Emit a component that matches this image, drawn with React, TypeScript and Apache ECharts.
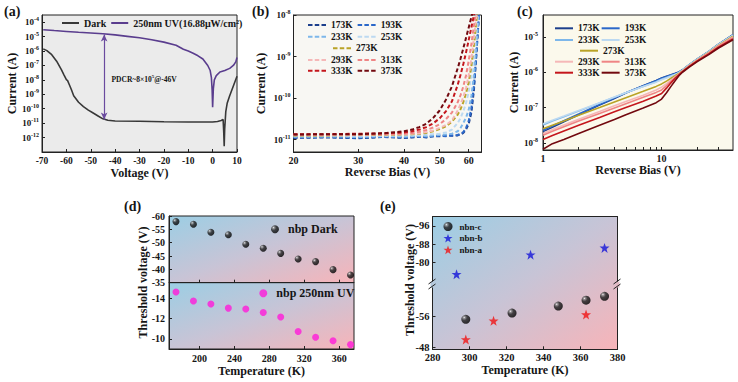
import React, { useEffect, useRef } from "react";
import * as echarts from "echarts";

// ---------------- (a) I–V : dark vs 250 nm UV (log10 of current, A) ----------------
const aDarkVoltage = [-69.5, -68, -66, -64, -62, -61, -60, -59.5, -59, -58, -57, -55, -53, -51, -49, -47, -45, -43, -40, -30, -20, -10, 0, 2, 3.5, 4.3, 4.55, 4.75, 4.95, 5.4, 6, 7, 8, 9, 10];
const aDarkLogCurrent = [-5.85, -5.97, -6.25, -6.7, -7.3, -7.65, -7.98, -8.05, -8.25, -8.65, -9.1, -9.55, -9.85, -10.1, -10.3, -10.5, -10.7, -10.8, -10.85, -10.87, -10.9, -10.92, -10.92, -10.88, -10.82, -10.75, -11.6, -12.6, -11.4, -10.2, -9.6, -9.1, -8.65, -8.2, -7.75];
const aUvVoltage = [-69.5, -65, -60, -55, -50, -45, -40, -35, -30, -25, -20, -15, -12, -10, -8, -6, -4, -2, -1, -0.5, -0.2, 0, 0.3, 0.7, 1.5, 3, 5, 7, 8.5, 9.5, 10];
const aUvLogCurrent = [-4.52, -4.58, -4.64, -4.7, -4.75, -4.8, -4.88, -4.98, -5.08, -5.22, -5.38, -5.6, -5.88, -6.0, -6.15, -6.33, -6.55, -7.0, -7.35, -7.85, -8.7, -9.9, -8.6, -8.0, -7.7, -7.45, -7.35, -7.2, -7.0, -6.75, -6.45];
const aVoltageTicks = [-70, -60, -50, -40, -30, -20, -10, 0, 10];
const aCurrentTickExp = [-12, -11, -10, -9, -8, -7, -6, -5, -4];
const aArrowVoltage = -44.5;
const aArrowLogTop = -4.85;
const aArrowLogBottom = -10.75;

// ---------------- (b) reverse bias, log10 current ----------------
const bBias = [20, 25, 30, 35, 40, 42, 44, 46, 48, 50, 52, 54, 56, 57, 58, 59, 60, 61, 62, 63, 64];
const bLog173 = [-10.96, -10.95, -10.97, -10.94, -10.96, -10.95, -10.93, -10.95, -10.92, -10.92, -10.9, -10.91, -10.9, -10.88, -10.84, -10.76, -10.62, -10.35, -9.8, -8.9, -7.95];
const bLog193 = [-10.95, -10.94, -10.96, -10.93, -10.95, -10.94, -10.92, -10.94, -10.92, -10.91, -10.92, -10.9, -10.89, -10.86, -10.82, -10.72, -10.55, -10.25, -9.7, -8.9, -8.0];
const bLog233 = [-10.93, -10.92, -10.94, -10.92, -10.93, -10.92, -10.91, -10.92, -10.9, -10.89, -10.88, -10.86, -10.8, -10.72, -10.6, -10.47, -10.28, -9.95, -9.45, -8.7, -7.9];
const bLog253 = [-10.92, -10.92, -10.91, -10.91, -10.9, -10.9, -10.89, -10.88, -10.87, -10.86, -10.83, -10.76, -10.6, -10.48, -10.32, -10.12, -9.85, -9.45, -8.95, -8.3, -7.7];
const bLog273 = [-10.9, -10.9, -10.89, -10.89, -10.88, -10.87, -10.86, -10.84, -10.8, -10.75, -10.68, -10.57, -10.4, -10.27, -10.1, -9.88, -9.62, -9.22, -8.72, -8.1, -7.6];
const bLog293 = [-10.89, -10.89, -10.88, -10.88, -10.87, -10.86, -10.85, -10.82, -10.78, -10.72, -10.65, -10.54, -10.3, -10.15, -9.98, -9.75, -9.45, -9.05, -8.55, -8.0, -7.5];
const bLog313 = [-10.88, -10.88, -10.88, -10.87, -10.86, -10.84, -10.81, -10.77, -10.71, -10.63, -10.51, -10.35, -10.1, -9.93, -9.72, -9.45, -9.1, -8.7, -8.25, -7.8, -7.4];
const bLog333 = [-10.87, -10.87, -10.86, -10.85, -10.83, -10.8, -10.76, -10.7, -10.61, -10.49, -10.32, -10.08, -9.68, -9.44, -9.18, -8.9, -8.6, -8.3, -8.0, -7.7, -7.4];
const bLog373 = [-10.88, -10.87, -10.87, -10.85, -10.8, -10.76, -10.7, -10.62, -10.48, -10.3, -10.04, -9.72, -9.28, -9.05, -8.8, -8.55, -8.3, -8.05, -7.8, -7.6, -7.4];
const bBiasTicks = [20, 30, 40, 50, 60];
const bCurrentTickExp = [-11, -10, -9, -8];

// ---------------- (c) reverse bias (log-log) ----------------
const cBias = [1, 1.2, 1.5, 2, 3, 4, 5, 7, 9, 10, 11, 12, 13, 14, 15, 17, 20, 25, 30, 40];
const cLog173 = [-7.68, -7.56, -7.4, -7.2, -6.93, -6.74, -6.59, -6.38, -6.23, -6.16, -6.11, -6.07, -6.03, -5.99, -5.93, -5.79, -5.62, -5.41, -5.21, -4.94];
const cLog193 = [-7.64, -7.52, -7.37, -7.18, -6.91, -6.73, -6.58, -6.38, -6.24, -6.17, -6.12, -6.08, -6.04, -6.0, -5.94, -5.8, -5.63, -5.42, -5.22, -4.94];
const cLog233 = [-7.49, -7.38, -7.26, -7.1, -6.87, -6.71, -6.58, -6.4, -6.27, -6.2, -6.15, -6.1, -6.06, -6.01, -5.94, -5.8, -5.63, -5.42, -5.22, -4.95];
const cLog253 = [-7.46, -7.36, -7.24, -7.08, -6.86, -6.7, -6.58, -6.4, -6.28, -6.21, -6.16, -6.11, -6.06, -6.01, -5.94, -5.8, -5.63, -5.42, -5.22, -4.95];
const cLog273 = [-7.6, -7.5, -7.38, -7.22, -7.0, -6.84, -6.72, -6.54, -6.4, -6.33, -6.25, -6.17, -6.1, -6.03, -5.96, -5.82, -5.65, -5.44, -5.25, -4.98];
const cLog293 = [-7.73, -7.62, -7.49, -7.33, -7.11, -6.95, -6.83, -6.65, -6.5, -6.42, -6.32, -6.22, -6.13, -6.05, -5.97, -5.83, -5.66, -5.45, -5.26, -5.0];
const cLog313 = [-7.78, -7.67, -7.54, -7.38, -7.17, -7.01, -6.89, -6.71, -6.57, -6.5, -6.38, -6.26, -6.15, -6.06, -5.98, -5.84, -5.67, -5.46, -5.27, -5.02];
const cLog333 = [-7.9, -7.79, -7.66, -7.5, -7.28, -7.12, -7.0, -6.82, -6.67, -6.6, -6.45, -6.3, -6.17, -6.07, -5.98, -5.84, -5.68, -5.48, -5.3, -5.06];
const cLog373 = [-8.18, -8.02, -7.9, -7.73, -7.5, -7.34, -7.2, -7.01, -6.86, -6.76, -6.58, -6.4, -6.24, -6.1, -6.0, -5.86, -5.7, -5.5, -5.32, -5.08];
const cBiasTicks = [1, 10];
const cMinorBias = [1, 2, 3, 4, 5, 6, 7, 8, 9, 10, 20, 30];
const cCurrentTickExp = [-8, -7, -6, -5];

const tempNames = ["173K", "193K", "233K", "253K", "273K", "293K", "313K", "333K", "373K"];

// ---------------- (d) threshold voltage vs temperature ----------------
const dTemperature = [173, 193, 213, 233, 253, 273, 293, 313, 333, 353, 373];
const dDarkThreshold = [-57.9, -56.9, -53.9, -53.0, -49.4, -47.9, -46.0, -43.9, -42.9, -39.9, -37.9];
const dUvThreshold = [-14.59, -13.7, -13.41, -13.01, -12.92, -12.58, -12.13, -10.71, -10.16, -9.81, -9.43];
const dTempTicks = [200, 240, 280, 320, 360];
const dUvTicks = [-14, -12, -10];

// ---------------- (e) nbn devices ----------------
const eNbnCTemp = [298, 323, 348, 363, 373];
const eNbnC = [-55.2, -56.8, -58.6, -60.1, -61.1];
const eNbnBTemp = [293, 333, 373];
const eNbnB = [-74.7, -83.3, -86.3];
const eNbnATemp = [298, 313, 363];
const eNbnA = [-50.0, -54.8, -56.4];
const eUpperTicks = [-96, -88, -80];
const eLowerTicks = [-56, -48];

// ---------------- styling ----------------
const FONT = '"Liberation Serif", "Times New Roman", serif';
const INK = "#151515";
const tempColors = ["#1c3f8c", "#2a67c9", "#7db7ea", "#bcd9f1", "#b9a326", "#f5b8b8", "#ef8585", "#c4161c", "#72090f"];

const lbl = (size: number, extra: any = {}) => ({ fontFamily: FONT, fontWeight: "bold", fontSize: size, color: INK, ...extra });
const AX_LINE = { show: true, onZero: false, lineStyle: { color: "#222", width: 1 } };
const ticksIn = (values?: number[]) => ({
  show: true,
  inside: true,
  length: 3,
  lineStyle: { color: "#222", width: 1 },
  ...(values ? { customValues: values } : {}),
});
const NAME = { fontFamily: FONT, fontWeight: "bold", fontSize: 12, color: INK };
const powFmt = (v: number) => `{b|10}{s|${Math.round(v)}}`;
const POW_RICH = { b: lbl(9), s: lbl(6, { padding: [0, 0, 6, 0] }) };
const NO_SPLIT = { show: false };
const DASH_ICON = "path://M0,0h4.5v2h-4.5z M6.75,0h4.5v2h-4.5z M13.5,0h4.5v2h-4.5z";

const bluePink = () =>
  new echarts.graphic.LinearGradient(0, 0, 1, 1, [
    { offset: 0, color: "#9ccee4" },
    { offset: 0.5, color: "#c8c4d6" },
    { offset: 1, color: "#f7b4b9" },
  ]);
const sphere = () =>
  new echarts.graphic.RadialGradient(0.32, 0.3, 0.72, [
    { offset: 0, color: "#ffffff" },
    { offset: 0.15, color: "#8a8a8a" },
    { offset: 0.45, color: "#202020" },
    { offset: 1, color: "#000000" },
  ]);
const STAR = "path://M12,0.5 L14.9,8.6 L23.5,8.6 L16.6,13.8 L19.1,22.5 L12,17.3 L4.9,22.5 L7.4,13.8 L0.5,8.6 L9.1,8.6 Z";

function buildOption(): any {
  const log10 = (v: number) => Math.log10(v);
  const bSets = [bLog173, bLog193, bLog233, bLog253, bLog273, bLog293, bLog313, bLog333, bLog373];
  const cSets = [cLog173, cLog193, cLog233, cLog253, cLog273, cLog293, cLog313, cLog333, cLog373];

  const grid: any[] = [
    { left: 42, top: 15, width: 195, height: 137, show: true, borderColor: "#222", borderWidth: 1, backgroundColor: "#ebebeb" },
    { left: 293.5, top: 15, width: 188, height: 137, show: true, borderColor: "#222", borderWidth: 1, backgroundColor: "#f8f7f3" },
    { left: 543, top: 15, width: 190, height: 135, show: true, borderColor: "#222", borderWidth: 1, backgroundColor: "#fbf9ec" },
    { left: 169, top: 216, width: 185, height: 66.7, show: true, borderColor: "#222", borderWidth: 1, backgroundColor: bluePink() },
    { left: 169, top: 282.7, width: 185, height: 66.3, show: true, borderColor: "#222", borderWidth: 1, backgroundColor: bluePink() },
    { left: 432.5, top: 216.7, width: 185, height: 68.3 },
    { left: 432.5, top: 285, width: 185, height: 64.3 },
  ].map((g) => ({ outerBoundsMode: "none", containLabel: false, ...g }));

  const xAxis: any[] = [
    {
      gridIndex: 0, type: "value", min: -70, max: 10,
      axisLine: AX_LINE, axisTick: ticksIn(aVoltageTicks), splitLine: NO_SPLIT,
      axisLabel: lbl(9.5, { margin: 4, customValues: aVoltageTicks }),
      name: "Voltage (V)", nameLocation: "middle", nameGap: 14, nameTextStyle: NAME,
    },
    {
      gridIndex: 1, type: "value", min: log10(20), max: log10(65),
      axisLine: AX_LINE, axisTick: ticksIn(bBiasTicks.map(log10)), splitLine: NO_SPLIT,
      axisLabel: lbl(10, { margin: 3, customValues: bBiasTicks.map(log10), formatter: (v: number) => String(Math.round(Math.pow(10, v))) }),
      name: "Reverse Bias (V)", nameLocation: "middle", nameGap: 14, nameTextStyle: NAME,
    },
    {
      gridIndex: 2, type: "value", min: 0, max: log10(40),
      axisLine: AX_LINE, axisTick: ticksIn(cMinorBias.map(log10)), splitLine: NO_SPLIT,
      axisLabel: lbl(10, { margin: 3, customValues: cBiasTicks.map(log10), formatter: (v: number) => String(Math.round(Math.pow(10, v))) }),
      name: "Reverse Bias (V)", nameLocation: "middle", nameGap: 13, nameTextStyle: NAME,
    },
    {
      gridIndex: 3, type: "value", min: 165, max: 377,
      axisLine: AX_LINE, axisTick: ticksIn(dTempTicks), splitLine: NO_SPLIT, axisLabel: { show: false },
    },
    {
      gridIndex: 4, type: "value", min: 165, max: 377,
      axisLine: AX_LINE, axisTick: ticksIn(dTempTicks), splitLine: NO_SPLIT,
      axisLabel: lbl(10, { margin: 4, customValues: dTempTicks }),
      name: "Temperature (K)", nameLocation: "middle", nameGap: 16, nameTextStyle: NAME,
    },
    {
      gridIndex: 5, type: "value", min: 280, max: 380, position: "top",
      axisLine: AX_LINE, axisTick: { show: false }, splitLine: NO_SPLIT, axisLabel: { show: false },
    },
    {
      gridIndex: 6, type: "value", min: 280, max: 380, interval: 20,
      axisLine: AX_LINE, axisTick: ticksIn(), splitLine: NO_SPLIT,
      axisLabel: lbl(10.5, { margin: 3 }),
      name: "Temperature (K)", nameLocation: "middle", nameGap: 15, nameTextStyle: NAME,
    },
  ];

  const yAxis: any[] = [
    {
      gridIndex: 0, type: "value", min: -13, max: -3.5,
      axisLine: AX_LINE, axisTick: ticksIn(aCurrentTickExp), splitLine: NO_SPLIT,
      axisLabel: { customValues: aCurrentTickExp, formatter: powFmt, rich: POW_RICH, margin: 3 },
      name: "Current (A)", nameLocation: "middle", nameGap: 22, nameTextStyle: NAME,
    },
    {
      gridIndex: 1, type: "value", min: -11.3, max: -8,
      axisLine: AX_LINE, axisTick: ticksIn(bCurrentTickExp), splitLine: NO_SPLIT,
      axisLabel: { customValues: bCurrentTickExp, formatter: powFmt, rich: POW_RICH, margin: 3 },
      name: "Current (A)", nameLocation: "middle", nameGap: 27, nameTextStyle: NAME,
    },
    {
      gridIndex: 2, type: "value", min: -8.2, max: -4.38,
      axisLine: AX_LINE, axisTick: ticksIn(cCurrentTickExp), splitLine: NO_SPLIT,
      axisLabel: { customValues: cCurrentTickExp, formatter: powFmt, rich: POW_RICH, margin: 5 },
      name: "Current (A)", nameLocation: "middle", nameGap: 20, nameTextStyle: NAME,
    },
    {
      gridIndex: 3, type: "value", min: -60, max: -35, interval: 5, inverse: true,
      axisLine: AX_LINE, axisTick: ticksIn(), splitLine: NO_SPLIT, axisLabel: lbl(10, { margin: 4 }),
    },
    {
      gridIndex: 4, type: "value", min: -15.5, max: -9, inverse: true,
      axisLine: AX_LINE, axisTick: ticksIn(dUvTicks), splitLine: NO_SPLIT,
      axisLabel: lbl(10, { margin: 4, customValues: dUvTicks }),
    },
    {
      gridIndex: 5, type: "value", min: -100, max: -70, inverse: true,
      axisLine: AX_LINE, axisTick: ticksIn(eUpperTicks), splitLine: NO_SPLIT,
      axisLabel: lbl(10.5, { margin: 3, customValues: eUpperTicks }),
    },
    {
      gridIndex: 5, type: "value", min: -100, max: -70, inverse: true, position: "right",
      axisLine: AX_LINE, axisTick: { show: false }, splitLine: NO_SPLIT, axisLabel: { show: false },
    },
    {
      gridIndex: 6, type: "value", min: -64, max: -47.5, inverse: true,
      axisLine: AX_LINE, axisTick: ticksIn(eLowerTicks), splitLine: NO_SPLIT,
      axisLabel: lbl(10.5, { margin: 3, customValues: eLowerTicks }),
    },
    {
      gridIndex: 6, type: "value", min: -64, max: -47.5, inverse: true, position: "right",
      axisLine: AX_LINE, axisTick: { show: false }, splitLine: NO_SPLIT, axisLabel: { show: false },
    },
  ];

  const series: any[] = [
    {
      type: "line", name: "Dark", xAxisIndex: 0, yAxisIndex: 0, symbol: "none", z: 3,
      data: aDarkVoltage.map((v, i) => [v, aDarkLogCurrent[i]]),
      lineStyle: { color: "#383838", width: 1.6 }, itemStyle: { color: "#383838" },
    },
    {
      type: "line", name: "250nm UV(16.88μW/cm²)", xAxisIndex: 0, yAxisIndex: 0, symbol: "none", z: 3,
      data: aUvVoltage.map((v, i) => [v, aUvLogCurrent[i]]),
      lineStyle: { color: "#5a3d8e", width: 1.6 }, itemStyle: { color: "#5a3d8e" },
      markLine: {
        silent: true, symbol: ["arrow", "arrow"], symbolSize: [5, 7], animation: false,
        label: { show: false },
        lineStyle: { color: "#6a4a9e", width: 1.2, type: "solid" },
        data: [[{ coord: [aArrowVoltage, aArrowLogTop] }, { coord: [aArrowVoltage, aArrowLogBottom] }]],
      },
    },
  ];
  bSets.forEach((arr, k) => {
    series.push({
      type: "line", name: "b:" + tempNames[k], xAxisIndex: 1, yAxisIndex: 1, symbol: "none",
      data: bBias.map((v, i) => [log10(v), arr[i]]),
      lineStyle: { color: tempColors[k], width: 2, type: [4, 2.5] }, itemStyle: { color: tempColors[k] },
    });
  });
  cSets.forEach((arr, k) => {
    series.push({
      type: "line", name: "c:" + tempNames[k], xAxisIndex: 2, yAxisIndex: 2, symbol: "none",
      data: cBias.map((v, i) => [log10(v), arr[i]]),
      lineStyle: { color: tempColors[k], width: 1.6 }, itemStyle: { color: tempColors[k] },
    });
  });
  series.push(
    {
      type: "scatter", name: "nbp Dark", xAxisIndex: 3, yAxisIndex: 3, symbol: "circle", symbolSize: 7,
      data: dTemperature.map((t, i) => [t, dDarkThreshold[i]]), itemStyle: { color: sphere() },
    },
    {
      type: "scatter", name: "nbp 250nm UV", xAxisIndex: 4, yAxisIndex: 4, symbol: "circle", symbolSize: 7,
      data: dTemperature.map((t, i) => [t, dUvThreshold[i]]), itemStyle: { color: "#ff1ad9" },
    },
    {
      type: "scatter", name: "nbn-c", xAxisIndex: 6, yAxisIndex: 7, symbol: "circle", symbolSize: 9,
      data: eNbnCTemp.map((t, i) => [t, eNbnC[i]]), itemStyle: { color: sphere() },
    },
    {
      type: "scatter", name: "nbn-b", xAxisIndex: 5, yAxisIndex: 5, symbol: STAR, symbolSize: 10,
      data: eNbnBTemp.map((t, i) => [t, eNbnB[i]]), itemStyle: { color: "#1414d8" },
    },
    {
      type: "scatter", name: "nbn-a", xAxisIndex: 6, yAxisIndex: 7, symbol: STAR, symbolSize: 10,
      data: eNbnATemp.map((t, i) => [t, eNbnA[i]]), itemStyle: { color: "#f01414" },
    }
  );

  const legBase = (extra: any) => ({
    padding: 0, selectedMode: false, orient: "horizontal",
    itemWidth: 18, itemHeight: 2, itemGap: 5, icon: "rect",
    textStyle: lbl(9.5, { lineHeight: 10 }),
    ...extra,
  });
  const strip = (n: string) => n.slice(2);
  const dashLeg = (left: number, top: number, data: string[]) =>
    legBase({ left, top, data, formatter: strip, icon: DASH_ICON });
  const solidLeg = (left: number, top: number, data: string[], gap = 2) =>
    legBase({ left, top, data, formatter: strip, itemGap: gap });
  const legend: any[] = [
    legBase({ left: 62, top: 18, itemWidth: 17, data: ["Dark", "250nm UV(16.88μW/cm²)"], textStyle: lbl(10, { lineHeight: 10 }) }),
    dashLeg(308, 20, ["b:173K", "b:193K"]),
    dashLeg(308, 31.7, ["b:233K", "b:253K"]),
    dashLeg(333, 43.3, ["b:273K"]),
    dashLeg(308, 55, ["b:293K", "b:313K"]),
    dashLeg(308, 65.7, ["b:333K", "b:373K"]),
    solidLeg(555, 23.3, ["c:173K", "c:193K"]),
    solidLeg(555, 35, ["c:233K", "c:253K"]),
    solidLeg(580, 45.7, ["c:273K"]),
    solidLeg(555, 56.7, ["c:293K", "c:313K"]),
    solidLeg(555, 67.7, ["c:333K", "c:373K"]),
    legBase({ left: 271, top: 223.3, icon: undefined, itemWidth: 8, itemHeight: 8, data: ["nbp Dark"], textStyle: lbl(12, { lineHeight: 12, padding: [0, 0, 0, 4] }) }),
    legBase({ left: 259.3, top: 287.3, icon: undefined, itemWidth: 8, itemHeight: 8, data: ["nbp 250nm UV"], textStyle: lbl(12, { lineHeight: 12, padding: [0, 0, 0, 4] }) }),
    legBase({
      left: 443.5, top: 222, orient: "vertical", icon: undefined, itemWidth: 9, itemHeight: 9, itemGap: 2.7,
      data: ["nbn-c", "nbn-b", "nbn-a"], textStyle: lbl(9, { lineHeight: 9, padding: [0, 0, 0, 2] }),
    }),
  ];

  const titleFont = `bold 14px ${FONT}`;
  const panelTitle = (t: string, x: number, y: number) => ({
    type: "text", x, y, silent: true,
    style: { text: t, font: titleFont, fill: INK, textAlign: "left", textVerticalAlign: "top" },
  });
  const breakMarks = (x: number, gapColor: string) => [
    { type: "rect", silent: true, z: 5, shape: { x: x - 2, y: 281.5, width: 4, height: 6 }, style: { fill: gapColor } },
    { type: "line", silent: true, z: 6, shape: { x1: x - 4, y1: 284, x2: x + 3, y2: 279 }, style: { stroke: "#222", lineWidth: 1 } },
    { type: "line", silent: true, z: 6, shape: { x1: x - 4, y1: 289, x2: x + 3, y2: 284 }, style: { stroke: "#222", lineWidth: 1 } },
  ];

  const graphic: any[] = [
    {
      type: "rect", silent: true, z: -1,
      shape: { x: 432.5, y: 216.7, width: 185, height: 132.6 },
      style: { fill: bluePink() },
    },
    panelTitle("(a)", 4, 4),
    panelTitle("(b)", 252, 4),
    panelTitle("(c)", 517, 4),
    panelTitle("(d)", 124, 199),
    panelTitle("(e)", 380, 199),
    {
      type: "text", x: 111.5, y: 79, silent: true, z: 5,
      style: {
        text: "{a|PDCR~8×10}{s|5}{a|@-46V}",
        textVerticalAlign: "middle", textAlign: "left",
        rich: {
          a: { fontFamily: FONT, fontWeight: "bold", fontSize: 7.5, fill: INK, color: INK },
          s: { fontFamily: FONT, fontWeight: "bold", fontSize: 5, fill: INK, color: INK, padding: [0, 0, 5, 0] },
        },
      },
    },
    {
      type: "text", x: 143, y: 282.5, rotation: Math.PI / 2, silent: true,
      style: { text: "Threshold voltage (V)", font: `bold 12px ${FONT}`, fill: INK, textAlign: "center", textVerticalAlign: "middle" },
    },
    {
      type: "text", x: 410, y: 280, rotation: Math.PI / 2, silent: true,
      style: { text: "Threshold voltage (V)", font: `bold 12px ${FONT}`, fill: INK, textAlign: "center", textVerticalAlign: "middle" },
    },
    ...breakMarks(432.5, "#b4c8dc"),
    ...breakMarks(617.5, "#e2bac4"),
  ];

  return {
    animation: false,
    backgroundColor: "#ffffff",
    textStyle: { fontFamily: FONT },
    grid, xAxis, yAxis, series, legend, graphic,
  };
}

export default function App() {
  const ref = useRef<HTMLDivElement>(null);
  useEffect(() => {
    document.body.style.margin = "0";
    const chart = echarts.init(ref.current as HTMLDivElement, null, { renderer: "svg" });
    chart.setOption(buildOption());
    return () => chart.dispose();
  }, []);
  return <div ref={ref} style={{ position: "absolute", left: 0, top: 0, width: 738, height: 382 }} />;
}
